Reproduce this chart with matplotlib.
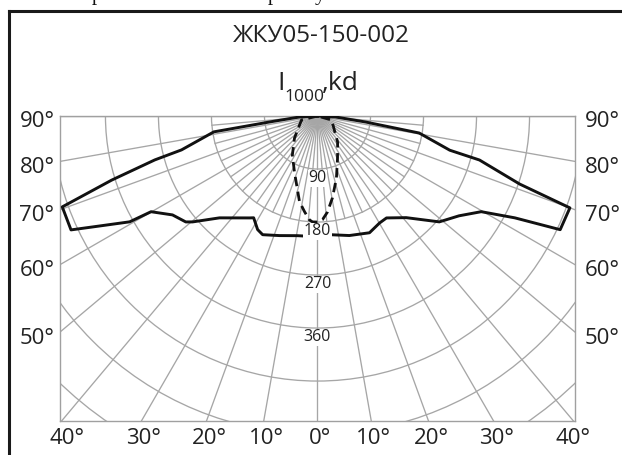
import numpy as np
import matplotlib
matplotlib.use("Agg")
import matplotlib.pyplot as plt
from matplotlib.lines import Line2D
from matplotlib.patches import Circle

plt.rcParams["font.family"] = ["Open Sans", "DejaVu Sans"]

W, H = 622, 455

# light intensity curves, kd per 1000 lm (angle from nadir, deg)
solid_left_ang = [0, 9.5, 17.6, 24.8, 27.8, 32.1, 33.7, 43.9, 49.7, 51.2, 55.7,
                  60.1, 60.6, 63.2, 65.2, 70.4, 72.7, 74.9, 76.0, 81.3, 82.9, 86.8, 90]
solid_left_val = [205, 206, 213, 222, 218, 204, 208, 240, 278, 287, 298,
                  326, 366, 414, 461, 460, 366, 286, 238, 178, 82, 31, 0]
solid_right_ang = [0, 6.7, 14.9, 24.0, 30.1, 34.1, 41.1, 49.0, 54.8, 59.7, 62.7,
                   64.9, 70.0, 71.4, 74.8, 75.5, 80.5, 82.9, 86.8, 90]
solid_right_val = [205, 203, 210, 217, 210, 209, 229, 274, 294, 322, 377,
                   455, 456, 362, 285, 232, 175, 82, 31, 0]

dash_left_ang = [0, 2.7, 4.4, 7.7, 11.8, 16.9, 22.3, 32.7, 46.3, 76, 90]
dash_left_val = [180, 180, 177, 164, 149, 122, 103, 79, 54, 28, 0]
dash_right_ang = [0, 2.8, 5.9, 10.4, 17, 25.5, 37.6, 74, 90]
dash_right_val = [180, 176, 164, 141, 110, 79, 56, 25, 0]

ring_values = [90, 180, 270, 360, 450, 540, 630]
ring_labels = ["90", "180", "270", "360"]
side_angles = [90, 80, 70, 60, 50]
bottom_angles = [40, 30, 20, 10, 0, 10, 20, 30, 40]

title = "ЖКУ05-150-002"


def px(x, y):
    return x / W, 1 - y / H


def to_xy(left_ang, left_val, right_ang, right_val):
    ang = np.concatenate([-np.array(left_ang[::-1]), np.array(right_ang[1:])])
    val = np.concatenate([np.array(left_val[::-1]), np.array(right_val[1:])])
    t = np.radians(ang)
    return val * np.sin(t), -val * np.cos(t)


fig = plt.figure(figsize=(W / 100, H / 100), dpi=100)
x0, y0 = px(60, 421)
ax = fig.add_axes([x0, y0, 515 / W, 305 / H])
k = 0.589  # px per kd
ax.set_xlim(-257.5 / k, 257.5 / k)
ax.set_ylim(-305 / k, 0)
ax.set_xticks([])
ax.set_yticks([])
for s in ax.spines.values():
    s.set_color("#a0a0a0")
    s.set_linewidth(1.0)

grid_c = "#a6a6a6"
for r in ring_values:
    ax.add_patch(Circle((0, 0), r, fill=False, ec=grid_c, lw=0.95, zorder=1))
for a in range(-90, 91, 10):
    t = np.radians(a)
    ax.plot([0, 2000 * np.sin(t)], [0, -2000 * np.cos(t)], color=grid_c, lw=0.95, zorder=1)
for a in range(-85, 90, 10):
    t = np.radians(a)
    ax.plot([0, 180 * np.sin(t)], [0, -180 * np.cos(t)], color=grid_c, lw=0.95, zorder=1)

xs, ys = to_xy(solid_left_ang, solid_left_val, solid_right_ang, solid_right_val)
ax.plot(xs, ys, color="#111111", lw=2.1, zorder=3, solid_joinstyle="round")
xd, yd = to_xy(dash_left_ang, dash_left_val, dash_right_ang, dash_right_val)
ax.plot(xd, yd, color="#111111", lw=2.0, zorder=3, dashes=(3.4, 2.0))

for i, lab in enumerate(ring_labels):
    r = ring_values[i]
    ax.text(0, -r - 16, lab, ha="center", va="center", fontsize=11.5, color="#222222",
            zorder=4, bbox=dict(fc="white", ec="none", pad=0.4))

# angle labels on the frame
for a in side_angles:
    yy = 116 + 257.5 / np.tan(np.radians(a)) if a < 90 else 116
    fig.text(*px(37, yy + 6), f"{a}°", ha="center", va="center", fontsize=16, color="#222222")
    fig.text(*px(602, yy + 6), f"{a}°", ha="center", va="center", fontsize=16, color="#222222")
for i, a in enumerate(bottom_angles):
    sign = -1 if i < 4 else 1
    xx = 318 + sign * 305 * np.tan(np.radians(a))
    if a == 40:
        xx = 318 + sign * 253
    fig.text(*px(xx + 2, 438), f"{a}°", ha="center", va="center", fontsize=16, color="#222222")

fig.text(*px(321, 36), title, ha="center", va="center", fontsize=17.5, color="#222222")
# I with subscript 1000, then ",kd"
fig.text(*px(281, 90), "I", ha="center", va="baseline", fontsize=19, color="#222222")
fig.text(*px(284, 101), "1000", ha="left", va="baseline", fontsize=12.5, color="#222222")
fig.text(*px(322, 90), ",kd", ha="left", va="baseline", fontsize=19, color="#222222")

# outer border of the page frame
fig.add_artist(Line2D([9 / W, 1], [1 - 11 / H] * 2, color="#1a1a1a", lw=2.2, transform=fig.transFigure))
fig.add_artist(Line2D([9 / W] * 2, [1 - 11 / H, 0], color="#1a1a1a", lw=2.2, transform=fig.transFigure))

# line of text from above, cut by the image edge as in the reference
for ch, xx in [("р", 97), ("р", 273), ("у", 320)]:
    fig.text(*px(xx, 0), ch, ha="center", va="baseline", fontsize=15,
             family="Liberation Serif", color="#111111")

fig.savefig("out.png", dpi=100)
